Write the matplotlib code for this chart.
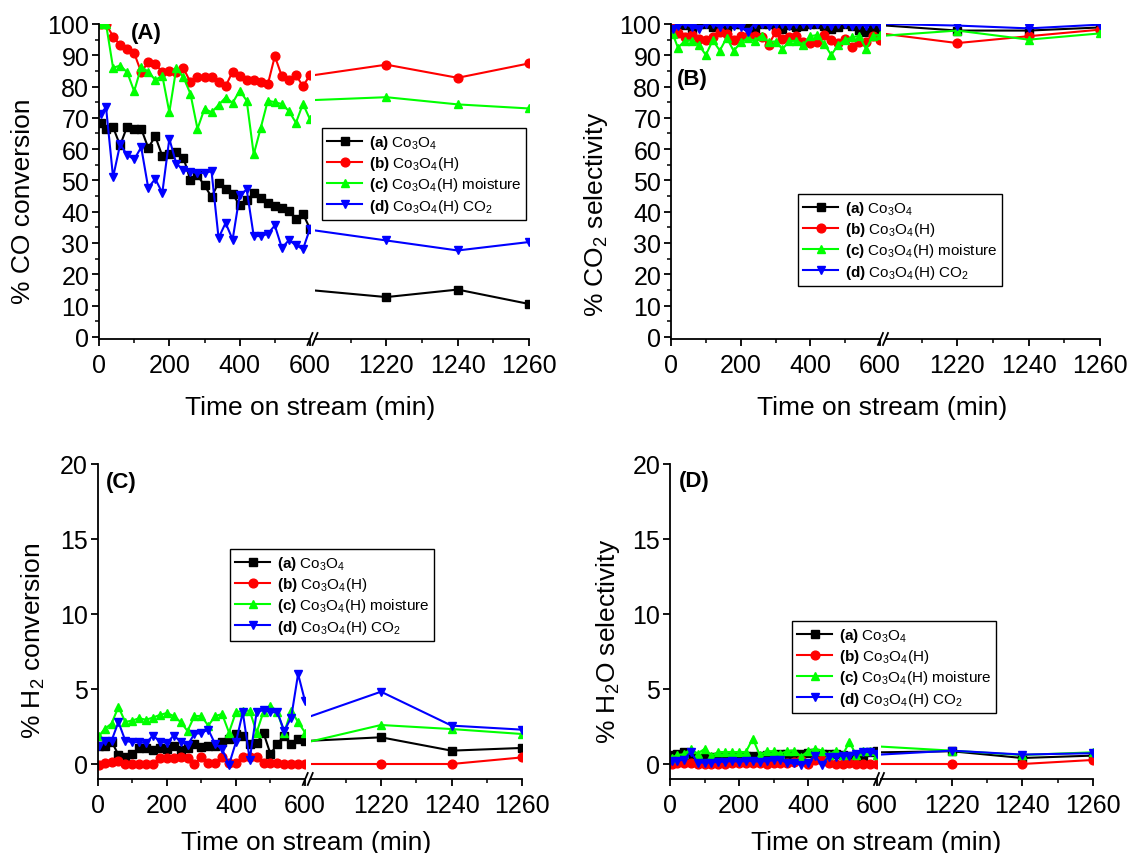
import matplotlib
matplotlib.use("Agg")
import matplotlib.pyplot as plt
from matplotlib.lines import Line2D
from matplotlib.ticker import MultipleLocator, FixedLocator

plt.rcParams['font.family'] = ['Liberation Sans', 'DejaVu Sans']
plt.rcParams['mathtext.fontset'] = 'custom'
plt.rcParams['mathtext.rm'] = 'Liberation Sans'
plt.rcParams['mathtext.it'] = 'Liberation Sans:italic'
plt.rcParams['mathtext.bf'] = 'Liberation Sans:bold'

# ---------------------------------------------------------------------------
# data
# ---------------------------------------------------------------------------
time_left = [5, 20, 40, 60, 80, 100, 120, 140, 160, 180, 200, 220, 240, 260, 280,
             300, 320, 340, 360, 380, 400, 420, 440, 460, 480, 500, 520, 540, 560,
             580, 600]
time_right = [1200, 1220, 1240, 1260]   # first value = where the line enters after the break

labels = [r'$\mathbf{(a)}$ Co$_3$O$_4$',
          r'$\mathbf{(b)}$ Co$_3$O$_4$(H)',
          r'$\mathbf{(c)}$ Co$_3$O$_4$(H) moisture',
          r'$\mathbf{(d)}$ Co$_3$O$_4$(H) CO$_2$']
colors = ['#000000', '#ff0000', '#00ff00', '#0000ff']
markers = ['s', 'o', '^', 'v']

# (A) CO conversion
co_conv_a = [68.4, 66.5, 67, 61.2, 67.2, 66.5, 66.5, 60.4, 64.1, 57.8, 58.3, 59, 57.3, 50,
             51.6, 48.4, 44.7, 49.3, 47.3, 45.7, 42, 43.6, 46, 44.4, 42.9, 41.8, 41.2,
             40.1, 37.8, 39.4, 34.5]
co_conv_b = [100, 100, 96, 93.3, 92, 90.7, 84.6, 87.8, 87.1, 84.8, 85, 84.8, 85.9, 81.4,
             83.1, 83.1, 82.9, 81.4, 80.1, 84.8, 83.3, 82.2, 82.2, 81.4, 80.7, 89.7, 83.3,
             82.2, 83.7, 80.1, 83.7]
co_conv_c = [100, 100, 86, 86.7, 84.6, 78.5, 86.2, 84.8, 82.1, 83.5, 71.8, 86, 83, 77.7,
             66.5, 72.9, 71.8, 74.1, 76.5, 74.8, 78.7, 75.5, 58.3, 66.8, 75.5, 75, 74.4,
             72.2, 68.4, 74.5, 69.5]
co_conv_d = [71.3, 73.4, 51, 61.5, 58.2, 56.7, 60.6, 47.6, 50.5, 46, 63.3, 55.3, 53.4,
             52.7, 52.4, 52.4, 52.9, 31.6, 36.4, 31.1, 45.2, 47.1, 32.2, 32.2, 32.9, 35.6,
             28.4, 30.9, 29.3, 28, 34.6]
co_conv_a_late = [14.8, 12.7, 15.1, 10.5]
co_conv_b_late = [83.7, 87, 82.8, 87.4]
co_conv_c_late = [75.7, 76.6, 74.3, 73]
co_conv_d_late = [34, 30.8, 27.6, 30.3]

# (B) CO2 selectivity
co2_sel_a = [99.5, 100, 99.8, 98, 100, 100, 99, 100, 99, 100, 100, 99.5, 98.5, 100, 100,
             99.5, 98.5, 99.8, 99, 99.5, 100, 100, 99.5, 98.5, 99, 100, 99.5, 98, 97.5,
             99, 98.5]
co2_sel_b = [99, 97, 95.7, 96.5, 95.2, 94.9, 95.7, 97.6, 96.8, 95, 96.3, 96.1, 96.3, 95.7,
             93.4, 97.3, 95.2, 95.7, 96.1, 94.1, 93.8, 94.4, 96.5, 94.9, 93.9, 95.2, 92.8,
             94.1, 94.4, 96.3, 95]
co2_sel_c = [96.8, 92.4, 94.7, 94.7, 93.3, 90.1, 94.8, 91.5, 95.6, 91.4, 94.1, 95.4, 94.7,
             96.3, 94.4, 94.4, 92, 94.6, 94.6, 93.4, 96.1, 96.5, 93.6, 90.1, 93.3, 95,
             95.7, 96.3, 92, 96.3, 96.5]
co2_sel_d = [98.5, 99.5, 100, 99, 98.5, 100, 100, 99, 100, 99.5, 99, 97.5, 100, 100, 99.5,
             100, 100, 99.5, 100, 100, 99.8, 100, 100, 99.5, 100, 100, 99.5, 99.8, 99.5,
             100, 99.5]
co2_sel_a_late = [99.5, 97.9, 97.9, 98.9]
co2_sel_b_late = [96.8, 93.9, 96.1, 98.2]
co2_sel_c_late = [96.3, 97.9, 95, 97]
co2_sel_d_late = [100, 99.5, 98.6, 99.8]

# (C) H2 conversion
h2_conv_a = [1.2, 1.2, 1.5, 0.62, 0.5, 0.7, 1.07, 1.07, 0.93, 1.1, 1.0, 1.2, 0.95, 1.1,
             1.33, 1.15, 1.2, 1.2, 1.45, 1.67, 2.0, 1.9, 1.33, 1.4, 2.07, 0.67, 1.33, 1.9,
             1.33, 1.67, 1.55]
h2_conv_b = [-0.05, 0.05, 0.15, 0.2, 0, 0, 0, 0, 0, 0.4, 0.4, 0.4, 0.45, 0.4, 0, 0.45,
             0.1, 0.05, 0.5, 0.05, 0.05, 0.5, 0.5, 0.5, 0.05, 0.05, 0.1, 0, 0, 0, 0]
h2_conv_c = [1.9, 2.33, 2.7, 3.8, 2.8, 2.9, 3.05, 2.95, 3.1, 3.27, 3.4, 3.2, 2.8, 2.2, 3.2,
             3.2, 2.55, 3.2, 3.33, 2.1, 3.45, 3.55, 3.55, 2.1, 3.5, 3.9, 3.45, 2.1, 3.55,
             2.8, 2.1]
h2_conv_d = [1.22, 1.55, 1.55, 2.8, 1.55, 1.45, 1.45, 1.4, 1.9, 1.5, 1.4, 1.9, 1.5, 1.27,
             2.0, 2.07, 2.3, 1.33, 1.0, -0.05, 1.45, 3.45, 0.3, 3.45, 3.6, 3.45, 3.45, 2.2,
             3.1, 6.0, 4.2]
h2_conv_a_late = [1.55, 1.78, 0.89, 1.07]
h2_conv_b_late = [0, 0, 0, 0.44]
h2_conv_c_late = [1.5, 2.6, 2.33, 2.0]
h2_conv_d_late = [3.18, 4.82, 2.56, 2.29]

# (D) H2O selectivity
h2o_sel_a = [0.6, 0.7, 0.8, 0.5, 0.35, 0.4, 0.45, 0.45, 0.5, 0.5, 0.5, 0.55, 0.55, 0.55,
             0.6, 0.6, 0.65, 0.65, 0.7, 0.7, 0.75, 0.75, 0.7, 0.7, 0.7, 0.6, 0.55, 0.5,
             0.45, 0.8, 0.85]
h2o_sel_b = [0.0, 0.05, 0.1, 0.05, 0.0, 0.0, 0.0, 0.0, 0.0, 0.05, 0.1, 0.1, 0.1, 0.05, 0.0,
             0.1, 0.05, 0.05, 0.15, 0.25, 0.0, 0.3, 0.3, 0.1, 0.0, 0.0, 0.05, 0.0, 0.0,
             0.0, 0.0]
h2o_sel_c = [0.4, 0.6, 0.65, 1.0, 0.7, 1.0, 0.55, 0.8, 0.8, 0.8, 0.8, 0.8, 1.7, 0.6, 0.85,
             0.85, 0.7, 0.85, 0.9, 0.5, 0.85, 1.0, 0.9, 0.6, 0.9, 0.6, 1.45, 0.6, 0.9, 0.9,
             0.6]
h2o_sel_d = [0.2, 0.2, 0.3, 0.8, 0.1, 0.1, 0.1, 0.15, 0.15, 0.2, 0.15, 0.2, 0.2, 0.15, 0.2,
             0.25, 0.3, 0.05, 0.05, -0.05, 0.1, 0.55, -0.05, 0.5, 0.5, 0.55, 0.55, 0.7, 0.8,
             0.8, 0.65]
h2o_sel_a_late = [0.78, 0.85, 0.4, 0.56]
h2o_sel_b_late = [0, 0, 0, 0.27]
h2o_sel_c_late = [1.16, 0.89, 0.6, 0.78]
h2o_sel_d_late = [0.63, 0.89, 0.63, 0.72]

# ---------------------------------------------------------------------------
W, H = 1129, 854
fig = plt.figure(figsize=(W / 100, H / 100), dpi=100)


def fx(px):
    return px / W


def fy(py):
    return 1 - py / H


# pixel layout: (left x0, left x600, right x1200, right x1260, y_top, y_bottom)
panels = [
    dict(tag='(A)', tag_xy=(146, 33), ylabel='% CO conversion', ylab_xy=(23, 201),
         xlab_xy=(310, 408), leg_xy=(322, 129),
         box=(99, 310, 315, 529, 25, 340), ylim=(-0.7, 100), ymaj=10, ymin=5,
         early=[co_conv_a, co_conv_b, co_conv_c, co_conv_d],
         late=[co_conv_a_late, co_conv_b_late, co_conv_c_late, co_conv_d_late]),
    dict(tag='(B)', tag_xy=(692, 80), ylabel='% CO$_2$ selectivity', ylab_xy=(596, 214),
         xlab_xy=(882, 408), leg_xy=(798, 195),
         box=(671, 880, 886, 1100, 25, 340), ylim=(-0.7, 100), ymaj=10, ymin=5,
         early=[co2_sel_a, co2_sel_b, co2_sel_c, co2_sel_d],
         late=[co2_sel_a_late, co2_sel_b_late, co2_sel_c_late, co2_sel_d_late]),
    dict(tag='(C)', tag_xy=(121, 483), ylabel='% H$_2$ conversion', ylab_xy=(33, 641),
         xlab_xy=(306, 843), leg_xy=(230, 550),
         box=(97.7, 305, 310.5, 522, 465, 780), ylim=(-1, 20), ymaj=5, ymin=None,
         early=[h2_conv_a, h2_conv_b, h2_conv_c, h2_conv_d],
         late=[h2_conv_a_late, h2_conv_b_late, h2_conv_c_late, h2_conv_d_late]),
    dict(tag='(D)', tag_xy=(694, 482), ylabel='% H$_2$O selectivity', ylab_xy=(608, 641),
         xlab_xy=(876, 843), leg_xy=(792, 622),
         box=(670, 877, 881, 1093, 465, 780), ylim=(-1, 20), ymaj=5, ymin=None,
         early=[h2o_sel_a, h2o_sel_b, h2o_sel_c, h2o_sel_d],
         late=[h2o_sel_a_late, h2o_sel_b_late, h2o_sel_c_late, h2o_sel_d_late]),
]

for p in panels:
    xl0, xl1, xr0, xr1, yt, yb = p['box']
    ax1 = fig.add_axes([fx(xl0), fy(yb), fx(xl1 - xl0), (yb - yt) / H])
    ax2 = fig.add_axes([fx(xr0), fy(yb), fx(xr1 - xr0), (yb - yt) / H])

    handles = []
    for i in range(4):
        ln, = ax1.plot(time_left, p['early'][i], color=colors[i], marker=markers[i],
                       ms=6.3, lw=1.5, mec=colors[i])
        ax2.plot(time_right, p['late'][i], color=colors[i], marker=markers[i],
                 ms=6.3, lw=1.5, markevery=[1, 2, 3])
        handles.append(ln)

    ax1.set_xlim(0, 600)
    ax2.set_xlim(1200, 1260)
    for ax in (ax1, ax2):
        ax.set_ylim(*p['ylim'])
        ax.spines['top'].set_visible(False)
        ax.spines['right'].set_visible(False)
        ax.spines['bottom'].set_linewidth(1.3)
        ax.spines['left'].set_linewidth(1.3)
        ax.tick_params(which='major', direction='out', length=5, width=1.3,
                       labelsize=18, pad=2)
        ax.tick_params(axis='x', which='major', pad=5)
        ax.tick_params(which='minor', direction='out', length=3, width=1.1)
    ax1.xaxis.set_major_locator(FixedLocator([0, 200, 400, 600]))
    ax1.xaxis.set_minor_locator(FixedLocator([100, 300, 500]))
    ax2.xaxis.set_major_locator(FixedLocator([1220, 1240, 1260]))
    ax2.xaxis.set_minor_locator(FixedLocator([1210, 1230, 1250]))
    ax1.yaxis.set_major_locator(MultipleLocator(p['ymaj']))
    if p['ymin']:
        ax1.yaxis.set_minor_locator(MultipleLocator(p['ymin']))
    ax2.spines['left'].set_visible(False)
    ax2.tick_params(which='both', left=False, labelleft=False)

    # break marks on the x axis
    bx = (xl1 + xr0) / 2
    for dx in (-2.5, 2.5):
        fig.add_artist(Line2D([fx(bx + dx - 2.5), fx(bx + dx + 2.5)],
                              [fy(yb + 6), fy(yb - 6)], color='black', lw=1.3))

    fig.text(fx(p['tag_xy'][0]), fy(p['tag_xy'][1]), p['tag'], fontsize=16,
             fontweight='bold', ha='center', va='center')
    fig.text(fx(p['ylab_xy'][0]), fy(p['ylab_xy'][1]), p['ylabel'], fontsize=19,
             rotation=90, ha='center', va='center')
    fig.text(fx(p['xlab_xy'][0]), fy(p['xlab_xy'][1]), 'Time on stream (min)',
             fontsize=19, ha='center', va='center')

    fig.legend(handles, labels, loc='upper left',
               bbox_to_anchor=(fx(p['leg_xy'][0]), fy(p['leg_xy'][1])),
               bbox_transform=fig.transFigure, fontsize=11, frameon=True,
               fancybox=False, edgecolor='black', framealpha=1, numpoints=1,
               handlelength=2.3, handletextpad=0.4, labelspacing=0.2,
               borderpad=0.35, borderaxespad=0).get_frame().set_linewidth(1.0)

fig.savefig('out.png', dpi=100)
